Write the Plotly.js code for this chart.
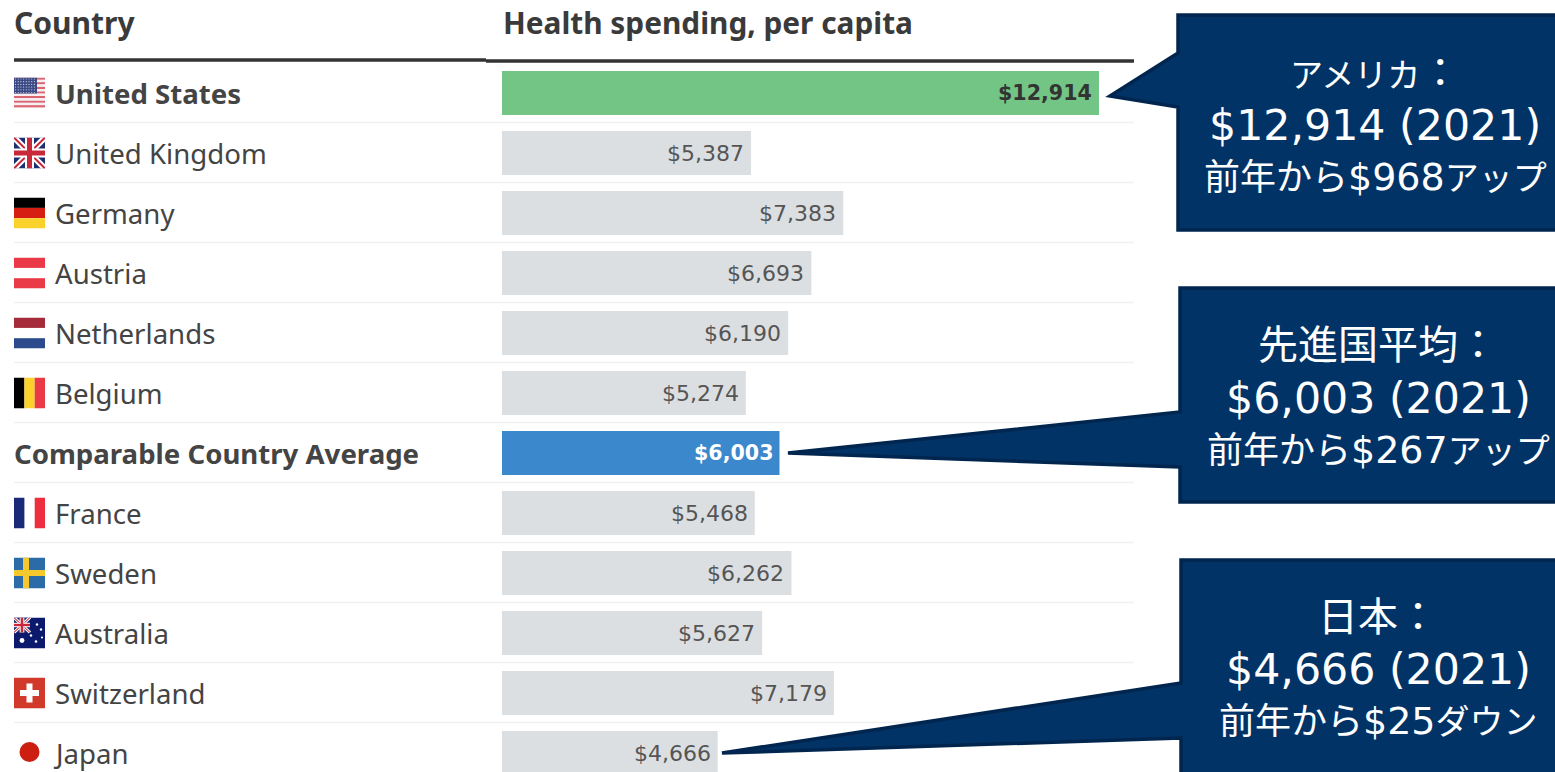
<!DOCTYPE html>
<html>
<head>
<meta charset="utf-8">
<script src="https://cdn.plot.ly/plotly-3.0.1.min.js"></script>
<style>html,body{margin:0;padding:0;background:#fff;overflow:hidden}#chart{width:1555px;height:772px}</style>
</head>
<body>
<div id="chart"></div>
<script>
const countries = ["United States","United Kingdom","Germany","Austria","Netherlands","Belgium","Comparable Country Average","France","Sweden","Australia","Switzerland","Japan"];
const spending = [12914,5387,7383,6693,6190,5274,6003,5468,6262,5627,7179,4666];
const valueLabels = ["$12,914","$5,387","$7,383","$6,693","$6,190","$5,274","$6,003","$5,468","$6,262","$5,627","$7,179","$4,666"];
const barColors = ["#72c585","#dcdfe2","#dcdfe2","#dcdfe2","#dcdfe2","#dcdfe2","#3b88cc","#dcdfe2","#dcdfe2","#dcdfe2","#dcdfe2","#dcdfe2"];
const headers = ["Country","Health spending, per capita"];
const calloutText = [
  ["アメリカ：","$12,914 (2021)","前年から$968アップ"],
  ["先進国平均：","$6,003 (2021)","前年から$267アップ"],
  ["日本：","$4,666 (2021)","前年から$25ダウン"]
];

const W = 1555, H = 772;
const px = v => v / W, py = v => 1 - v / H;
const FONT = "'Noto Sans', Lato, sans-serif";
const NUM = "'DejaVu Sans', sans-serif";
const JP = "'DejaVu Sans', 'Noto Sans CJK JP', sans-serif";
const pxPerDollar = 597 / 12914;

function svg(body){
  return "data:image/svg+xml;utf8," + encodeURIComponent(
    '<svg xmlns="http://www.w3.org/2000/svg" width="31" height="31" viewBox="0 0 31 31">' + body + '</svg>');
}
const r = (x,y,w,h,c) => `<rect x="${x}" y="${y}" width="${w}" height="${h}" fill="${c}"/>`;
const usStripes = [0,1,2,3,4,5,6].map(i => r(0,i*4.6,31,2.3,"#d9656f")).join("") + [0,1,2,3,4,5].map(i => r(0,2.3+i*4.6,31,2.3,"#f6eef0")).join("");
const usStars = (() => { let s=""; for(let a=0;a<6;a++) for(let b=0;b<8;b++) s+=`<circle cx="${1.5+b*2.7}" cy="${1.5+a*2.7}" r=".6" fill="#c6cde0"/>`; return s; })();
const ukFlag = (w,h) => `<g transform="scale(${w/31} ${h/31})">` + r(0,0,31,31,"#1d2f6f")
  + '<path d="M0 0L31 31M31 0L0 31" stroke="#fff" stroke-width="6"/>'
  + '<path d="M0 0L31 31M31 0L0 31" stroke="#c8283a" stroke-width="2"/>'
  + r(11,0,9,31,"#fff") + r(0,11,31,9,"#fff") + r(13,0,5,31,"#c8283a") + r(0,13,31,5,"#c8283a") + '</g>';
const flags = {
  "United States": usStripes + r(0,0,23,16,"#3b4a85") + usStars,
  "United Kingdom": ukFlag(31,31),
  "Germany": r(0,0,31,10.4,"#000") + r(0,10.4,31,10.3,"#d61f12") + r(0,20.7,31,10.3,"#fbd22c"),
  "Austria": r(0,0,31,10.4,"#ea3a48") + r(0,20.7,31,10.3,"#ea3a48"),
  "Netherlands": r(0,0,31,10.4,"#a52a3a") + r(0,20.7,31,10.3,"#2b4b8c"),
  "Belgium": r(0,0,10.4,31,"#000") + r(10.4,0,10.3,31,"#fbd22c") + r(20.7,0,10.3,31,"#ea3a48"),
  "France": r(0,0,10.4,31,"#1a2a78") + r(20.7,0,10.3,31,"#ee2e3e"),
  "Sweden": r(0,0,31,31,"#2a6ba8") + r(9,0,6,31,"#f5c92e") + r(0,12.5,31,6,"#f5c92e"),
  "Australia": r(0,0,31,31,"#0c1a6e") + ukFlag(16,15)
    + [[8,23,2.4],[17,18,1.2],[22,24,1.3],[27,12,1.2],[23,7,1.2],[28,20,1.1]].map(c=>`<circle cx="${c[0]}" cy="${c[1]}" r="${c[2]}" fill="#fff"/>`).join(""),
  "Switzerland": r(0,0,31,31,"#d13a2b") + r(12.5,6,6,19,"#fff") + r(6,12.5,19,6,"#fff"),
  "Japan": '<circle cx="15.5" cy="14.5" r="10" fill="#cc1f12"/>'
};

const rowsY = i => 93 + 60 * i;
const shapes = [];
const line = (x0,x1,y,c,w) => ({type:"line",xref:"paper",yref:"paper",x0:px(x0),x1:px(x1),y0:py(y),y1:py(y),line:{color:c,width:w},layer:"below"});
shapes.push(line(14,486,60,"#333333",3.5));
shapes.push(line(486,1134,61,"#333333",3.5));
for(let i=0;i<countries.length-1;i++) shapes.push(line(14,1134,rowsY(i)+29.5,"#f0f0f0",1.6));

const outlines = [
  {l:1178,t:15,b:230,a:53,c:107,tx:1110,ty:96},
  {l:1180,t:288,b:502,a:412,c:467,tx:788,ty:453},
  {l:1181,t:560,b:790,a:683,c:738,tx:722,ty:753}
];
outlines.forEach(o=>{
  const R = 1570;
  const pts = [[o.l,o.t],[R,o.t],[R,o.b],[o.l,o.b],[o.l,o.c],[o.tx,o.ty],[o.l,o.a]];
  shapes.push({type:"path",xref:"paper",yref:"paper",layer:"above",
    path:"M"+pts.map(p=>px(p[0])+","+py(p[1])).join("L")+"Z",
    fillcolor:"#023366",line:{color:"#00264f",width:3.5}});
});

const annotations = [];
const txt = (x,y,t,size,color,anchor,bold,family,xref,yref,xshift) => ({
  x,y,text:t,xref,yref,xanchor:anchor,yanchor:"middle",showarrow:false,xshift:xshift||0,
  font:{family:family||FONT,size,color,weight:bold?700:400}
});
annotations.push(txt(px(14),py(23),headers[0],30,"#3a3a3a","left",true,FONT,"paper","paper",-2));
annotations.push(txt(px(503),py(23),headers[1],29.8,"#3a3a3a","left",true,FONT,"paper","paper",-2));
countries.forEach((c,i)=>{
  const avg = c.startsWith("Comparable"), us = i===0;
  annotations.push(txt(px(avg?14:55),py(rowsY(i)),c,27.6,"#444444","left",avg||us,FONT,"paper","paper",c==="Japan"?-4:-2));
  annotations.push(txt(spending[i],c,valueLabels[i],(avg||us)?20.6:22,avg?"#ffffff":(us?"#333333":"#555555"),"right",avg||us,NUM,"x","y",-5));
});
const calloutCenters = [[1375,[73,125,177]],[1378,[345,398,450]],[1378,[617,669,721]]];
const lineSizes = [40,42.7,38];
const hanSizes = [40,40,36];
const kanaSizes = [33,33,34];
const mixed = (t,j) => t.replace(/[^\x00-\x7f]+/g, run =>
  run.replace(/[ァ-ー]+|[^ァ-ー]+/g, p => `<span style="font-size:${/[ァ-ー]/.test(p)?kanaSizes[j]:hanSizes[j]}px">${p}</span>`));
calloutText.forEach((lines,k)=>lines.forEach((t,j)=>{
  annotations.push(txt(px(calloutCenters[k][0]),py(calloutCenters[k][1][j]),mixed(t,j),lineSizes[j],"#ffffff","center",false,JP,"paper","paper"));
}));

const images = [];
countries.forEach((c,i)=>{
  if(!flags[c]) return;
  images.push({source:svg(flags[c]),xref:"paper",yref:"paper",x:px(14),y:py(rowsY(i)-15.5),sizex:31/W,sizey:31/H,sizing:"stretch",xanchor:"left",yanchor:"top",layer:"above"});
});

const x0 = 502;
const data = [{
  type:"bar",orientation:"h",x:spending,y:countries,
  marker:{color:barColors,line:{width:0}},hoverinfo:"skip",width:44/60
}];
const layout = {
  width:W,height:H,margin:{l:0,r:0,t:0,b:0,pad:0},
  paper_bgcolor:"#fff",plot_bgcolor:"rgba(0,0,0,0)",showlegend:false,
  xaxis:{domain:[px(x0),1],range:[0,(W-x0)/pxPerDollar],visible:false,fixedrange:true},
  yaxis:{type:"category",categoryorder:"array",categoryarray:countries,
    range:[(H-93)/60,-93/60],visible:false,fixedrange:true},
  shapes,annotations,images
};
Plotly.newPlot("chart",data,layout,{displayModeBar:false,staticPlot:true});
</script>
</body>
</html>
